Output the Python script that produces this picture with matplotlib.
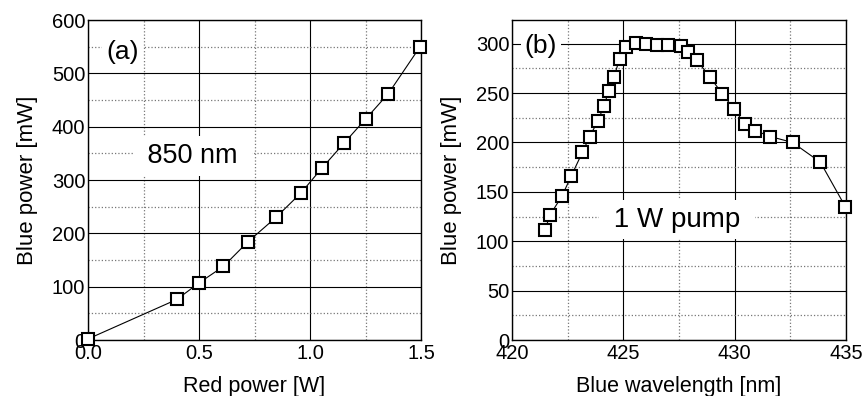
import matplotlib.pyplot as plt
from matplotlib.ticker import MultipleLocator

plt.rcParams['font.family'] = ['Liberation Sans', 'DejaVu Sans']

# panel (a): blue power vs red power at 850 nm
red_power = [0.0, 0.40, 0.50, 0.61, 0.72, 0.847, 0.96, 1.053, 1.153, 1.252, 1.353, 1.496]
blue_power_a = [2, 76, 107, 138, 184, 230, 276, 322, 369, 415, 462, 550]

# panel (b): blue power vs wavelength, 1 W pump
wavelength = [421.47, 421.72, 422.25, 422.66, 423.16, 423.49, 423.86, 424.13, 424.34,
              424.57, 424.84, 425.10, 425.55, 426.02, 426.50, 427.00, 427.57, 427.90,
              428.31, 428.90, 429.45, 429.97, 430.45, 430.93, 431.60, 432.60, 433.85, 434.97]
blue_power_b = [111, 127, 146, 166, 190, 206, 222, 237, 252,
                266, 285, 297, 301, 300, 299, 299, 298, 292,
                283, 266, 249, 234, 219, 212, 206, 200, 180, 135]

fig = plt.figure(figsize=(8.65, 3.96), dpi=100)
ax1 = fig.add_axes([88/865, 56/396, 333/865, 320/396])
ax2 = fig.add_axes([512/865, 56/396, 334/865, 320/396])

mk = dict(marker='s', markersize=8.5, markerfacecolor='white', markeredgecolor='black',
          markeredgewidth=1.5, linestyle='none', clip_on=False, zorder=3)


def style(ax):
    ax.set_axisbelow(True)
    ax.grid(which='major', color='black', linestyle='-', linewidth=0.8)
    ax.grid(which='minor', color='#777777', linestyle=':', linewidth=0.9)
    ax.tick_params(which='both', length=0, labelsize=14.5, pad=2)
    ax.tick_params(axis='x', pad=3)
    for s in ax.spines.values():
        s.set_linewidth(1.0)


ax1.plot(red_power, blue_power_a, '-', color='black', linewidth=0.8)
ax1.plot(red_power, blue_power_a, **mk)
ax1.set_xlim(0, 1.5)
ax1.set_ylim(0, 600)
ax1.xaxis.set_major_locator(MultipleLocator(0.5))
ax1.xaxis.set_minor_locator(MultipleLocator(0.25))
ax1.yaxis.set_major_locator(MultipleLocator(100))
ax1.yaxis.set_minor_locator(MultipleLocator(50))
ax1.xaxis.set_major_formatter(plt.FuncFormatter(lambda v, p: f'{v:.1f}'))
style(ax1)
ax1.set_xlabel('Red power [W]', fontsize=15.5, labelpad=9)
ax1.set_ylabel('Blue power [mW]', fontsize=16, labelpad=10)
ax1.text(0.155, 540, '(a)', fontsize=19, ha='center', va='center',
         bbox=dict(facecolor='white', edgecolor='none', pad=3))
ax1.text(0.47, 345, ' 850 nm ', fontsize=19.5, ha='center', va='center',
         bbox=dict(facecolor='white', edgecolor='none', pad=5))

ax2.plot(wavelength, blue_power_b, '-', color='black', linewidth=0.8)
ax2.plot(wavelength, blue_power_b, **mk)
ax2.set_xlim(420, 435)
ax2.set_ylim(0, 324)
ax2.xaxis.set_major_locator(MultipleLocator(5))
ax2.xaxis.set_minor_locator(MultipleLocator(2.5))
ax2.yaxis.set_major_locator(MultipleLocator(50))
ax2.yaxis.set_minor_locator(MultipleLocator(25))
style(ax2)
ax2.set_xlabel('Blue wavelength [nm]', fontsize=15.5, labelpad=9)
ax2.set_ylabel('Blue power [mW]', fontsize=16, labelpad=10)
ax2.text(421.3, 298, '(b)', fontsize=19, ha='center', va='center',
         bbox=dict(facecolor='white', edgecolor='none', pad=3))
ax2.text(427.4, 122, ' 1 W pump ', fontsize=20, ha='center', va='center',
         bbox=dict(facecolor='white', edgecolor='none', pad=5))

fig.savefig('out.png', dpi=100)
